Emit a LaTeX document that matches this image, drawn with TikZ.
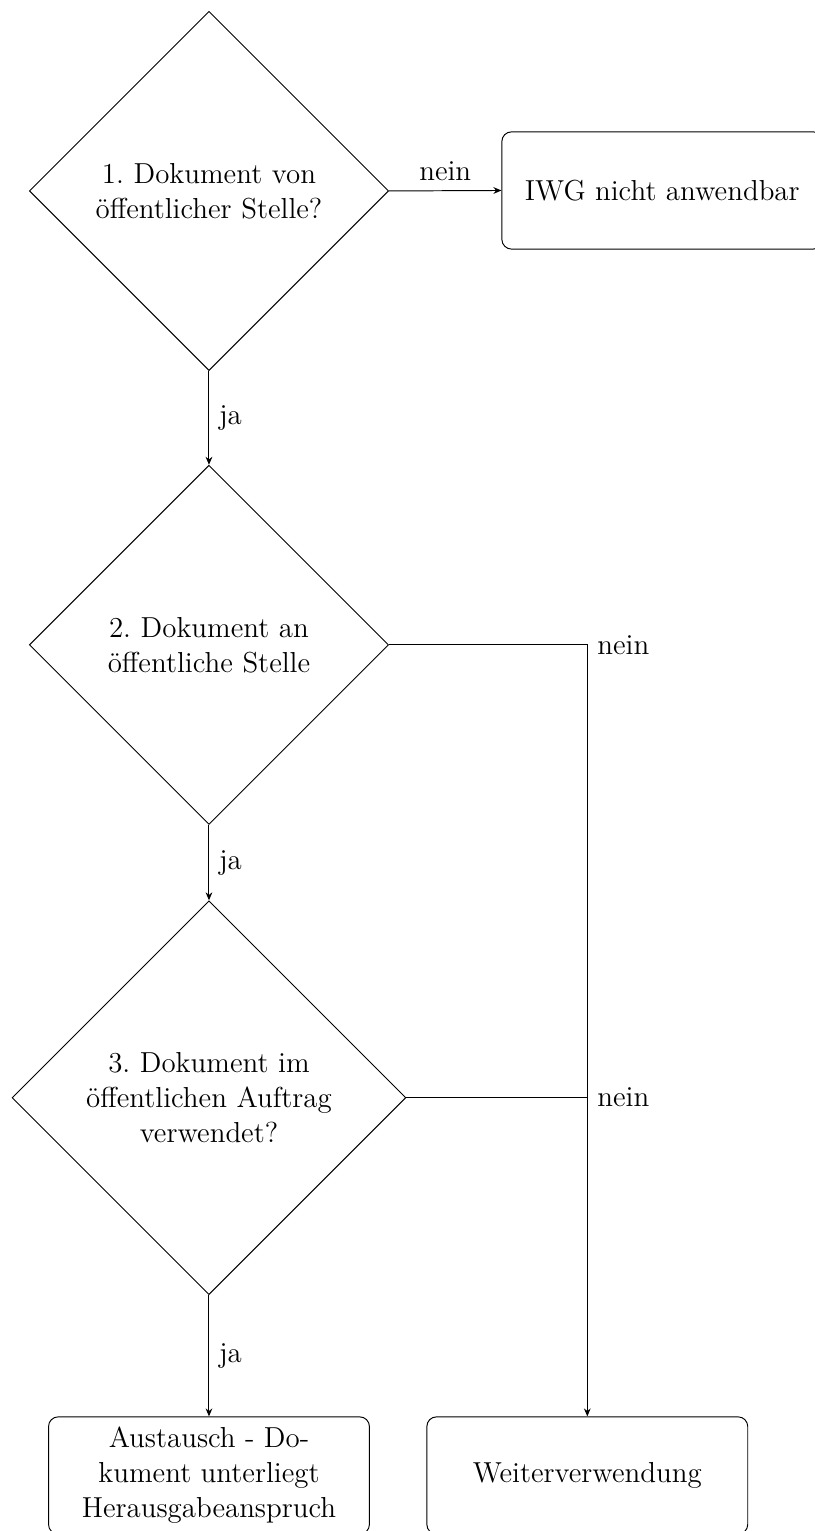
\documentclass[12pt,tikz,border=0pt]{standalone}
\usetikzlibrary{arrows.meta,shapes.geometric}
\frenchspacing
\tikzset{frage/.style={diamond,draw,aspect=1,text width=110pt,align=center},
 box/.style={draw,rounded corners,align=center,minimum width=4.68cm,minimum height=1.71cm},
 arr/.style={-{Stealth[length=3.3pt,width=2.8pt]}}}

\begin{document}
\begin{tikzpicture}
\useasboundingbox (0,0) rectangle (11.885,-22.33);
\node[frage] (f1) at (3.048,-2.785) {1. Dokument von öffentlicher Stelle?};
\node[frage] (f2) at (3.048,-9.405) {2. Dokument an öffentliche Stelle};
\node[frage] (f3) at (3.048,-16.01) {3. Dokument im\\öffentlichen Auftrag\\verwendet?};
\node[box] (iwg) at (9.66,-2.778) {IWG nicht anwendbar};
\node[box] (aus) at (3.048,-21.52) {Austausch - Do-\\kument unterliegt\\Herausgabeanspruch};
\node[box] (wv) at (8.566,-21.52) {Weiterverwendung};
\coordinate (j3) at (f3.east -| wv.north);
\draw[arr] (f1.east)--node[above]{nein}(iwg.west);
\draw[arr] (f1.south)--node[right]{ja}(f2.north);
\draw[arr] (f2.south)--node[right]{ja}(f3.north);
\draw[arr] (f3.south)--node[right]{ja}(aus.north);
\draw[arr] (f2.east)-|node[pos=0.5,right]{nein}(wv.north);
\draw (f3.east)--(j3) node[right]{nein};
\end{tikzpicture}
\end{document}
